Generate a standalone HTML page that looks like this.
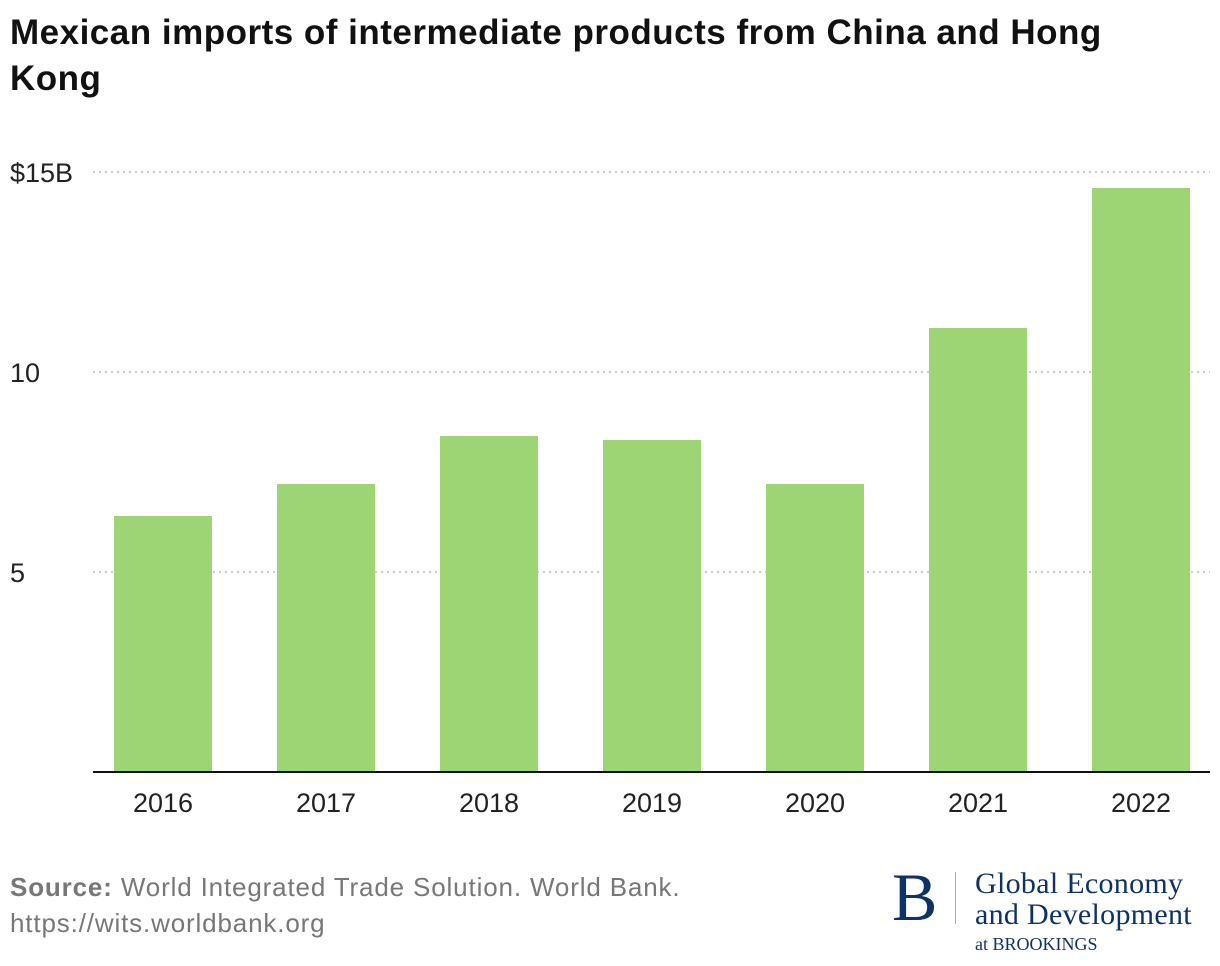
<!DOCTYPE html>
<html><head><meta charset="utf-8"><style>
body{margin:0;width:1220px;height:966px;background:#fff;font-family:"Liberation Sans",sans-serif;overflow:hidden;position:relative}
.t{position:absolute;left:10px;top:10px;font-size:35px;font-weight:bold;color:#111;line-height:46px;width:1125px;letter-spacing:0.5px}
.src{position:absolute;left:10px;top:869px;font-size:26px;color:#777;line-height:36px;letter-spacing:0.85px}
.logo{position:absolute;font-family:"Liberation Serif",serif;color:#0d3366}
</style></head><body>
<div class="t">Mexican imports of intermediate products from China and Hong Kong</div>
<svg id="c" width="1220" height="966" style="position:absolute;left:0;top:0"></svg>
<div class="src"><b>Source:</b> World Integrated Trade Solution. World Bank.<br>https://wits.worldbank.org</div>
<div class="logo">
<div style="position:absolute;left:892px;top:862px;font-size:68px;line-height:70px">B</div>
<div style="position:absolute;left:955px;top:872px;width:1px;height:52px;background:#aab"></div>
<div style="position:absolute;left:975px;top:868px;font-size:30px;line-height:31px;white-space:nowrap;letter-spacing:0.3px">Global Economy<br>and Development</div>
<div style="position:absolute;left:975px;top:934px;font-size:18px;white-space:nowrap">at BROOKINGS</div>
</div>
<script>
const categories=["2016","2017","2018","2019","2020","2021","2022"];
const values=[6.4,7.2,8.4,8.3,7.2,11.1,14.6];
const ticks=[5,10,15];
const tickLabels=["5","10","$15B"];
const svg=document.getElementById('c');const NS="http://www.w3.org/2000/svg";
const y=v=>772-v*40;const x=i=>163*(i+1);
function mk(t,a){const e=document.createElementNS(NS,t);for(const k in a)e.setAttribute(k,a[k]);svg.appendChild(e);return e;}
ticks.forEach((t,i)=>{
const l=mk('line',{x1:93,x2:1210,y1:y(t),y2:y(t),stroke:'#bbb','stroke-width':1.5,'stroke-dasharray':'2,4'});


const tx=mk('text',{x:10,y:y(t)+10,'font-size':27,fill:'#222','font-family':'Liberation Sans'});tx.textContent=tickLabels[i];


});
categories.forEach((c,i)=>{
const r=mk('rect',{x:x(i)-49,y:y(values[i]),width:98,height:values[i]*40,fill:'#9dd574'});


const tx=mk('text',{x:x(i),y:812,'font-size':27,fill:'#222','text-anchor':'middle','font-family':'Liberation Sans'});tx.textContent=c;


});
const ax=mk('line',{x1:93,x2:1210,y1:772,y2:772,stroke:'#111','stroke-width':2});


</script>
</body></html>
